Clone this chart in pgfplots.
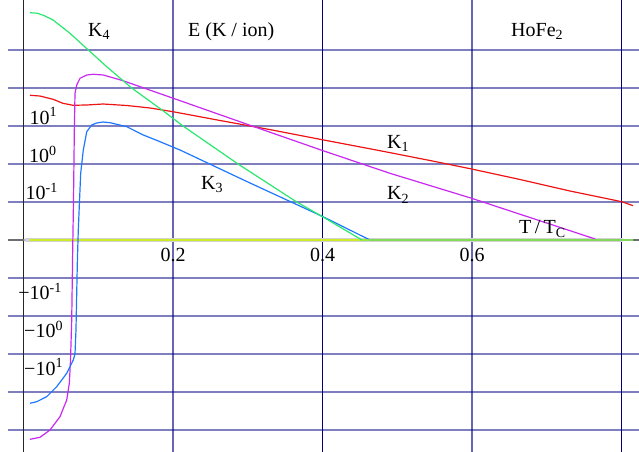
\documentclass[border=0pt]{standalone}
\usepackage{fontspec}
\setmainfont{Liberation Serif}
\usepackage{pgfplots}
\usepackage{pgfplotstable}
\pgfplotsset{compat=1.18}

\definecolor{kone}{RGB}{238,20,20}
\definecolor{ktwo}{RGB}{200,40,240}
\definecolor{kthree}{RGB}{30,120,255}
\definecolor{kfour}{RGB}{40,232,110}
\definecolor{kzero}{RGB}{205,235,40}
\definecolor{band}{RGB}{210,210,210}
\definecolor{gridnavy}{RGB}{0,0,128}
\definecolor{axisgray}{RGB}{110,110,110}

% Anisotropy energies K1..K4 of HoFe2 versus reduced temperature T/Tc.
% The y values are on a signed logarithmic scale: one unit per decade,
% +-1 = +-10^-1, +-2 = +-10^0, +-3 = +-10^1, ... (0 = zero energy).
\pgfplotstableread{
x u
0.0087 3.808
0.0221 3.789
0.0395 3.703
0.0528 3.597
0.0662 3.545
0.0849 3.553
0.1064 3.579
0.1385 3.539
0.1692 3.474
0.2000 3.376
0.2629 3.145
0.3298 2.905
0.3967 2.650
0.4769 2.350
0.5438 2.092
0.5996 1.868
0.6642 1.592
0.7311 1.289
0.8003 1.008
0.8154 0.903
}\Kone

\pgfplotstableread{
x u
0.0087 -5.245
0.0221 -5.192
0.0355 -5.000
0.0488 -4.650
0.0578 -4.211
0.0613 -3.771
0.0629 -3.158
0.0645 -2.105
0.0658 -0.263
0.0669 1.053
0.0680 2.895
0.0689 3.861
0.0712 4.079
0.0756 4.255
0.0845 4.342
0.0934 4.361
0.1068 4.342
0.1331 4.192
0.2004 3.729
0.2986 3.050
0.4007 2.350
0.4903 1.755
0.5996 1.097
0.7619 0.045
0.7672 0.000
0.8154 0.000
}\Ktwo

\pgfplotstableread{
x u
0.0087 -4.297
0.0177 -4.255
0.0310 -4.124
0.0444 -3.861
0.0578 -3.508
0.0666 -3.158
0.0689 -3.000
0.0702 -2.368
0.0720 -0.605
0.0733 0.263
0.0765 1.755
0.0800 2.368
0.0846 2.850
0.0912 3.026
0.0979 3.079
0.1064 3.105
0.1157 3.087
0.1381 2.982
0.1603 2.763
0.1826 2.587
0.2094 2.368
0.3030 1.500
0.4007 0.613
0.4635 0.000
0.8154 0.000
}\Kthree

\pgfplotstableread{
x u
0.0087 5.982
0.0181 5.968
0.0274 5.908
0.0395 5.789
0.0515 5.605
0.0622 5.439
0.0867 5.000
0.1113 4.561
0.1447 4.000
0.1853 3.421
0.2134 3.000
0.2870 2.000
0.3655 1.000
0.4007 0.605
0.4301 0.263
0.4528 0.000
0.8154 0.000
}\Kfour

\begin{document}
\begin{tikzpicture}[font=\fontsize{20}{24}\selectfont,
  lbl/.style={anchor=base west, inner sep=0pt, text=black}]
\begin{axis}[
  width=639pt, height=452pt, scale only axis,
  xmin=-0.03144, xmax=0.8234, ymin=-5.579, ymax=6.316,
  axis line style={draw=none}, ticks=none,
  every axis plot/.append style={line width=1.2pt, line join=round},
]
% horizontal grid, one line per decade
\pgfplotsinvokeforeach{-5,-4,-3,-2,-1,1,2,3,4,5}{
  \draw[gridnavy, opacity=0.5, line width=1.2pt]
    (axis cs:-0.0207,#1) -- (axis cs:0.8234,#1);
}
% vertical grid
\draw[gridnavy, opacity=0.6, line width=1.2pt] (axis cs:0.2,-5.579) -- (axis cs:0.2,6.316);
\draw[gridnavy, opacity=0.6, line width=1.2pt] (axis cs:0.6,-5.579) -- (axis cs:0.6,6.316);
\draw[gridnavy, line width=1.2pt] (axis cs:0.4,-5.579) -- (axis cs:0.4,6.316);
\draw[gridnavy, line width=1.2pt] (axis cs:0.8,-5.579) -- (axis cs:0.8,6.316);
% axes
\draw[black!85, line width=1.1pt] (axis cs:0,-5.579) -- (axis cs:0,6.316);
\draw[axisgray, line width=1.1pt] (axis cs:-0.0207,0) -- (axis cs:0.8234,0);

% zero level
\addplot[band, line width=4.5pt, line cap=round] coordinates {(0.004,0) (0.8,0)};
\addplot[kzero] coordinates {(0.0087,0) (0.8154,0)};

\addplot[kone]   table[x=x, y=u] {\Kone};
\addplot[ktwo]   table[x=x, y=u] {\Ktwo};
\addplot[kthree] table[x=x, y=u] {\Kthree};
\addplot[kfour]  table[x=x, y=u] {\Kfour};
% the zero series again, translucent, over the curves that have reached zero
\addplot[kzero, opacity=0.5] coordinates {(0.4528,0) (0.8154,0)};

% decade labels
\node[lbl] at (axis cs:0.0080,3.045)  {10\textsuperscript{1}};
\node[lbl] at (axis cs:0.0074,2.034)  {10\textsuperscript{0}};
\node[lbl] at (axis cs:0.0027,1.053)  {10\textsuperscript{-1}};
\node[lbl] at (axis cs:-0.0070,-1.579) {−10\textsuperscript{-1}};
\node[lbl] at (axis cs:0.0007,-2.579) {−10\textsuperscript{0}};
\node[lbl] at (axis cs:0.0007,-3.553) {−10\textsuperscript{1}};

% x tick labels
\node[anchor=base, inner sep=0pt] at (axis cs:0.2,-0.553) {0.2};
\node[anchor=base, inner sep=0pt] at (axis cs:0.4,-0.553) {0.4};
\node[anchor=base, inner sep=0pt] at (axis cs:0.6,-0.553) {0.6};

% titles and curve names
\node[lbl] at (axis cs:0.0863,5.368) {K\textsubscript{4}};
\node[lbl] at (axis cs:0.2200,5.355) {E (K / ion)};
\node[lbl] at (axis cs:0.6522,5.368) {HoFe\textsubscript{2}};
\node[lbl] at (axis cs:0.4863,2.413) {K\textsubscript{1}};
\node[lbl] at (axis cs:0.4863,1.053) {K\textsubscript{2}};
\node[lbl] at (axis cs:0.2375,1.334) {K\textsubscript{3}};
\node[lbl] at (axis cs:0.6629,0.158) {T\,/\,T\textsubscript{C}};
\end{axis}
\end{tikzpicture}
\end{document}
